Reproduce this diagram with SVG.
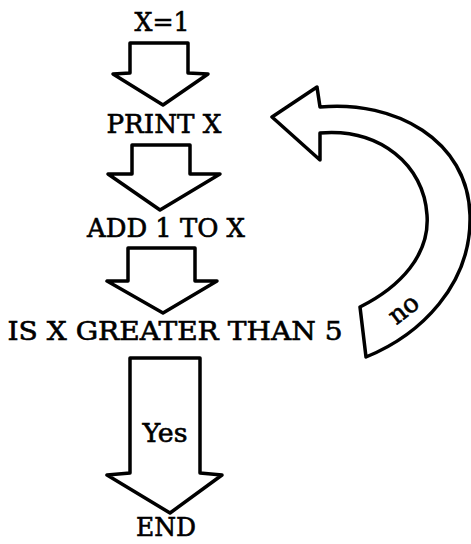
<svg xmlns="http://www.w3.org/2000/svg" width="471" height="544" viewBox="0 0 471 544">
<style>
.lbl{font-family:"DejaVu Serif","Liberation Serif",serif;font-size:25.5px;fill:#000;stroke:#000;stroke-width:0.6;text-anchor:middle}
.arr{fill:#fff;stroke:#000;stroke-width:3.5;stroke-linejoin:round}
</style>
<rect width="471" height="544" fill="#fff"/>
<g id="n1"><text class="lbl" x="162" y="31" textLength="55" lengthAdjust="spacingAndGlyphs">X=1</text></g>
<g id="n2"><text class="lbl" x="164" y="133" textLength="115" lengthAdjust="spacingAndGlyphs">PRINT X</text></g>
<g id="n3"><text class="lbl" x="166" y="237" textLength="158" lengthAdjust="spacingAndGlyphs">ADD 1 TO X</text></g>
<g id="n4"><text class="lbl" x="175" y="340" textLength="335" lengthAdjust="spacingAndGlyphs">IS X GREATER THAN 5</text></g>
<g id="n5"><text class="lbl" x="166" y="536" font-size="24" textLength="60" lengthAdjust="spacingAndGlyphs">END</text></g>
<g id="connectors">
<polygon class="arr" points="130,43 188,43 188,73 208,74 163,105 113,74 130,73"/>
<polygon class="arr" points="132,145 190,145 190,174 220,174 160,210 108,174 132,174"/>
<polygon class="arr" points="128,248 195,248 195,281 217,281 163,313 107,281 128,281"/>
<polygon class="arr" points="130,358 200,358 200,473 222,475 170,513 107,475 130,473"/>
<text class="lbl" x="165" y="442" textLength="45" lengthAdjust="spacingAndGlyphs">Yes</text>
<path class="arr" d="M320,107 C395,100 468,140 470,215 C472,285 420,335 366,357 L360,307 C400,287 430,255 427,215 C424,165 380,128 320,133 L320,160 L272,117 L317,87 Z"/>
<text class="lbl" x="405" y="317" font-size="19" transform="rotate(-38 405 311)">no</text>
</g>
</svg>
